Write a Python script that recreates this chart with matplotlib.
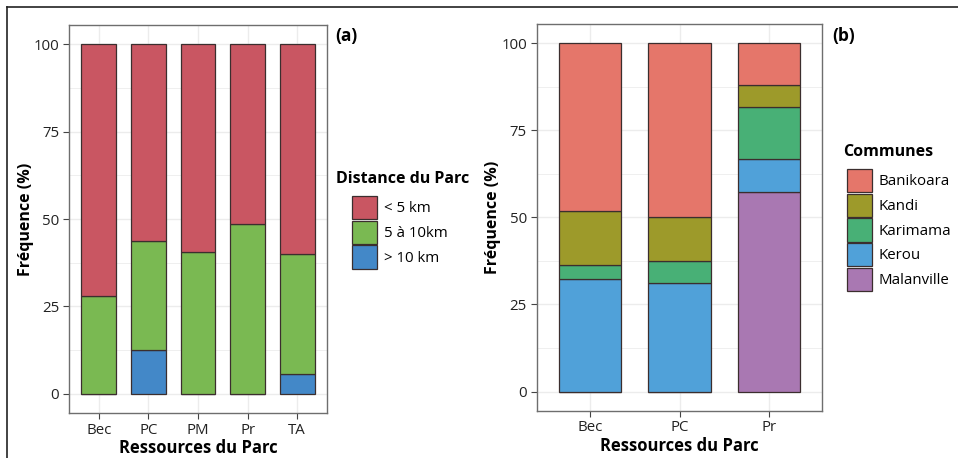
import matplotlib
matplotlib.use("Agg")
import matplotlib.pyplot as plt
from matplotlib.patches import Patch
from matplotlib.lines import Line2D
import numpy as np

plt.rcParams['font.family'] = ['Open Sans', 'DejaVu Sans']

# panel (a): distance to the park
res_a = ['Bec', 'PC', 'PM', 'Pr', 'TA']
dist_labels = ['< 5 km', '5 à 10km', '> 10 km']
dist_colors = ['#C95662', '#7AB952', '#4388C8']
lt5 = [72.0, 56.2, 59.5, 51.4, 60.0]
d5_10 = [28.0, 31.3, 40.5, 48.6, 34.3]
gt10 = [0.0, 12.5, 0.0, 0.0, 5.7]

# panel (b): communes
res_b = ['Bec', 'PC', 'Pr']
communes = ['Banikoara', 'Kandi', 'Karimama', 'Kerou', 'Malanville']
com_colors = ['#E5766A', '#9D9A2A', '#48B076', '#50A1D9', '#A978B2']
banikoara = [48.1, 50.0, 12.0]
kandi = [15.6, 12.5, 6.2]
karimama = [4.1, 6.3, 15.1]
kerou = [32.2, 31.2, 9.4]
malanville = [0.0, 0.0, 57.3]

W, H = 958, 458
fig = plt.figure(figsize=(W / 100, H / 100), dpi=100)

edge = '#3b2e2e'
grid_c = '#ececec'
frame_c = '#6e6e6e'


def style_axes(ax, n):
    ax.set_xlim(0.4, n + 0.6)
    ax.set_ylim(-5.5, 105.5)
    ax.set_yticks([0, 25, 50, 75, 100])
    ax.set_yticks([12.5, 37.5, 62.5, 87.5], minor=True)
    ax.set_xticks(np.arange(1, n + 1))
    ax.grid(True, which='major', color=grid_c, lw=1.0, zorder=0)
    ax.grid(True, which='minor', axis='y', color=grid_c, lw=0.6, zorder=0)
    ax.set_axisbelow(True)
    for s in ax.spines.values():
        s.set_color(frame_c)
        s.set_linewidth(1.0)
    ax.tick_params(which='major', length=4, width=0.8, color='#444444',
                   labelsize=10.8, labelcolor='#222222', pad=3)
    ax.tick_params(which='minor', length=0)
    ax.set_ylabel('Fréquence (%)', fontsize=11.5, fontweight='bold', labelpad=0)
    ax.set_xlabel('Ressources du Parc', fontsize=12, fontweight='bold', labelpad=1)


def stacked(ax, cats, series, colors):
    x = np.arange(1, len(cats) + 1)
    bottom = np.zeros(len(cats))
    # bottom of the stack is the last level (ggplot order)
    for vals, col in zip(series[::-1], colors[::-1]):
        vals = np.array(vals)
        ax.bar(x, vals, bottom=bottom, width=0.7, color=col,
               edgecolor=edge, linewidth=0.9, zorder=2)
        bottom += vals
    ax.set_xticklabels(cats)


def legend(colors, labels, title, tx, ty, kx, ky):
    fig.text(tx / W, 1 - ty / H, title, fontsize=11.5, fontweight='bold', va='center')
    handles = [Patch(facecolor=c, edgecolor=edge, lw=0.9) for c in colors]
    fig.legend(handles, labels, loc='upper left',
               bbox_to_anchor=(kx / W, 1 - ky / H), frameon=False,
               fontsize=10.8, handlelength=1.65, handleheight=2.0,
               handletextpad=0.45, labelspacing=0.1, borderpad=0,
               borderaxespad=0)


# panel (a)
ax1 = fig.add_axes([69 / W, (H - 413) / H, 258 / W, 388 / H])
style_axes(ax1, len(res_a))
stacked(ax1, res_a, [lt5, d5_10, gt10], dist_colors)
fig.text(335 / W, 1 - 36 / H, '(a)', fontsize=12.5, fontweight='bold', va='center')
legend(dist_colors, dist_labels, 'Distance du Parc', 336, 179, 352, 196)

# panel (b)
ax2 = fig.add_axes([536.7 / W, (H - 410.7) / H, 285.6 / W, 386.7 / H])
style_axes(ax2, len(res_b))
stacked(ax2, res_b, [banikoara, kandi, karimama, kerou, malanville], com_colors)
fig.text(832 / W, 1 - 36 / H, '(b)', fontsize=12.5, fontweight='bold', va='center')
legend(com_colors, communes, 'Communes', 843, 152, 847, 169)

# outer frame (top and left edges)
fig.add_artist(Line2D([7 / W, 1], [1 - 7 / H, 1 - 7 / H], color='#222222', lw=1.2))
fig.add_artist(Line2D([7 / W, 7 / W], [0, 1 - 7 / H], color='#222222', lw=1.2))

fig.savefig('out.png', dpi=100)
